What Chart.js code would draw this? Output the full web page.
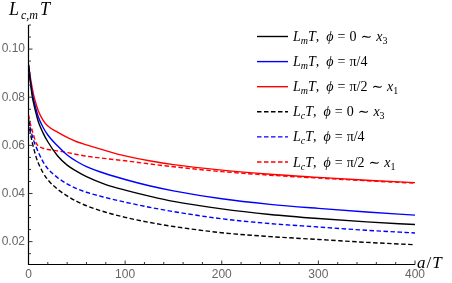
<!DOCTYPE html>
<html lang="en">
<head>
<meta charset="UTF-8">
<title>L T versus a/T</title>
<script src="https://cdn.jsdelivr.net/npm/chart.js"></script>
<style>
  html, body { margin: 0; padding: 0; background: #fff; }
</style>
</head>
<body>
<canvas id="plot" width="452" height="283"></canvas>
<script>
// a/T sample points
const aT = [0, 2, 4, 6, 8, 10, 15, 20, 30, 40, 50, 60, 80, 100, 125, 150, 200, 250, 300, 350, 400];

// L_m T
const LmT_phi0   = [0.0935, 0.0860, 0.0800, 0.0762, 0.0730, 0.0700, 0.0652, 0.0615, 0.0557, 0.0518, 0.0492, 0.0470, 0.0437, 0.0414, 0.0389, 0.0367, 0.0336, 0.0313, 0.0296, 0.0282, 0.0271];
const LmT_phiPi4 = [0.0935, 0.0868, 0.0815, 0.0778, 0.0748, 0.0720, 0.0675, 0.0643, 0.0598, 0.0560, 0.0533, 0.0512, 0.0482, 0.0458, 0.0432, 0.0411, 0.0378, 0.0355, 0.0338, 0.0323, 0.0310];
const LmT_phiPi2 = [0.0935, 0.0880, 0.0835, 0.0798, 0.0770, 0.0745, 0.0705, 0.0680, 0.0655, 0.0633, 0.0615, 0.0602, 0.0578, 0.0556, 0.0536, 0.0520, 0.0497, 0.0480, 0.0467, 0.0455, 0.0445];

// L_c T
const LcT_phi0   = [0.0699, 0.0650, 0.0610, 0.0578, 0.0550, 0.0528, 0.0487, 0.0457, 0.0418, 0.0390, 0.0367, 0.0349, 0.0322, 0.0301, 0.0280, 0.0263, 0.0237, 0.0221, 0.0209, 0.0197, 0.0187];
const LcT_phiPi4 = [0.0706, 0.0668, 0.0638, 0.0612, 0.0592, 0.0573, 0.0532, 0.0503, 0.0466, 0.0440, 0.0420, 0.0405, 0.0383, 0.0364, 0.0343, 0.0325, 0.0295, 0.0275, 0.0261, 0.0247, 0.0236];
const LcT_phiPi2 = [0.0727, 0.0688, 0.0660, 0.0632, 0.0610, 0.0598, 0.0588, 0.0583, 0.0577, 0.0570, 0.0562, 0.0555, 0.0545, 0.0536, 0.0523, 0.0511, 0.0491, 0.0476, 0.0464, 0.0453, 0.0443];

const xTicks = [0, 100, 200, 300, 400];
const yTicks = [0.02, 0.04, 0.06, 0.08, 0.10];

// legend pieces: subscript of L, and the phi value
const legendSub = ['m', 'm', 'm', 'c', 'c', 'c'];
const legendPhi = ['0 ∼ x3', 'π/4', 'π/2 ∼ x1', '0 ∼ x3', 'π/4', 'π/2 ∼ x1'];

const SERIF = '"Liberation Serif", "DejaVu Serif", serif';
const DASH = [4.5, 2.5];

function pts(ys) {
  return aT.map((x, i) => ({ x: x, y: ys[i] }));
}

function series(ys, color, dashed) {
  return {
    data: pts(ys),
    borderColor: color,
    borderWidth: 1.4,
    borderDash: dashed ? DASH : [],
    pointRadius: 0,
    fill: false,
    cubicInterpolationMode: 'monotone'
  };
}

// draw a row of text pieces with different fonts
function drawRuns(ctx, x, y, runs) {
  for (const r of runs) {
    ctx.font = r.f;
    ctx.fillText(r.t, x, y + (r.dy || 0));
    x += ctx.measureText(r.t).width + (r.gap || 0);
  }
  return x;
}

function legendRuns(sub, phi) {
  const it = 'italic 14px ' + SERIF, rm = '14px ' + SERIF;
  const itS = 'italic 10px ' + SERIF, rmS = '10px ' + SERIF;
  const runs = [
    { t: 'L', f: it }, { t: sub, f: itS, dy: 3 }, { t: 'T', f: it },
    { t: ',', f: rm, gap: 7 }, { t: 'ϕ', f: it, gap: 4 }, { t: '=', f: rm, gap: 4 }
  ];
  for (const p of phi.split(' ')) {
    if (p === '∼') runs.push({ t: '∼', f: rm, gap: 4 });
    else if (p[0] === 'x') runs.push({ t: 'x', f: it }, { t: p.slice(1), f: rmS, dy: 3 });
    else runs.push({ t: p, f: rm, gap: 4 });
  }
  return runs;
}

const decor = {
  id: 'decor',
  afterDatasetsDraw(chart) {
    const { ctx, chartArea: a, scales: { x, y } } = chart;
    ctx.save();
    ctx.strokeStyle = '#000';
    ctx.lineWidth = 1.2;
    ctx.setLineDash([]);
    ctx.beginPath();
    ctx.moveTo(a.left, a.top);
    ctx.lineTo(a.left, a.bottom);
    ctx.lineTo(a.right, a.bottom);
    ctx.stroke();

    // inward ticks, major and minor
    ctx.lineWidth = 1;
    ctx.strokeStyle = '#333';
    ctx.beginPath();
    for (let v = 20; v <= 400; v += 20) {
      const px = x.getPixelForValue(v);
      const len = v % 100 === 0 ? 4 : 2.5;
      ctx.moveTo(px, a.bottom);
      ctx.lineTo(px, a.bottom - len);
    }
    for (let k = 3; k <= 22; k++) {
      const v = k * 0.005;
      const py = y.getPixelForValue(v);
      const len = k % 4 === 0 ? 4 : 2.5;
      ctx.moveTo(a.left, py);
      ctx.lineTo(a.left + len, py);
    }
    ctx.stroke();

    // axis titles
    ctx.fillStyle = '#000';
    ctx.textBaseline = 'alphabetic';
    ctx.textAlign = 'left';
    drawRuns(ctx, 9, 15, [
      { t: 'L', f: 'italic 18px ' + SERIF, gap: 2 },
      { t: 'c,m', f: 'italic 12px ' + SERIF, dy: 4, gap: 2 },
      { t: 'T', f: 'italic 18px ' + SERIF }
    ]);
    drawRuns(ctx, 417, 268, [
      { t: 'a', f: 'italic 17px ' + SERIF, gap: 1 },
      { t: '/', f: '17px ' + SERIF, gap: 1 },
      { t: 'T', f: 'italic 17px ' + SERIF }
    ]);

    // legend
    chart.data.datasets.forEach((ds, i) => {
      const ry = 36.5 + i * 25.1;
      ctx.strokeStyle = ds.borderColor;
      ctx.lineWidth = ds.borderWidth;
      ctx.setLineDash(ds.borderDash);
      ctx.beginPath();
      ctx.moveTo(257, ry);
      ctx.lineTo(288, ry);
      ctx.stroke();
      ctx.setLineDash([]);
      ctx.fillStyle = '#000';
      drawRuns(ctx, 293, ry + 4.5, legendRuns(legendSub[i], legendPhi[i]));
    });
    ctx.restore();
  }
};

new Chart(document.getElementById('plot'), {
  type: 'line',
  data: {
    datasets: [
      series(LmT_phi0, '#000000', false),
      series(LmT_phiPi4, '#0000ff', false),
      series(LmT_phiPi2, '#ff0000', false),
      series(LcT_phi0, '#000000', true),
      series(LcT_phiPi4, '#0000ff', true),
      series(LcT_phiPi2, '#ff0000', true)
    ]
  },
  options: {
    responsive: false,
    animation: false,
    devicePixelRatio: 1,
    layout: { padding: { top: 25, right: 37, left: 0, bottom: 0 } },
    plugins: { legend: { display: false }, tooltip: { enabled: false } },
    scales: {
      x: {
        type: 'linear', min: 0, max: 400,
        grid: { display: false, drawTicks: false },
        border: { display: false },
        afterBuildTicks: s => { s.ticks = xTicks.map(v => ({ value: v })); },
        afterFit: s => { s.height = 18.5; },
        ticks: {
          color: '#666', padding: 3, maxRotation: 0,
          font: { family: '"Liberation Sans", Arial, sans-serif', size: 12 },
          callback: v => String(v)
        }
      },
      y: {
        type: 'linear', min: 0.0105, max: 0.110,
        grid: { display: false, drawTicks: false },
        border: { display: false },
        afterBuildTicks: s => { s.ticks = yTicks.map(v => ({ value: v })); },
        afterFit: s => { s.width = 28.5; },
        ticks: {
          color: '#666', padding: 3.5,
          font: { family: '"Liberation Sans", Arial, sans-serif', size: 12 },
          callback: v => v.toFixed(2)
        }
      }
    }
  },
  plugins: [decor]
});
</script>
</body>
</html>
